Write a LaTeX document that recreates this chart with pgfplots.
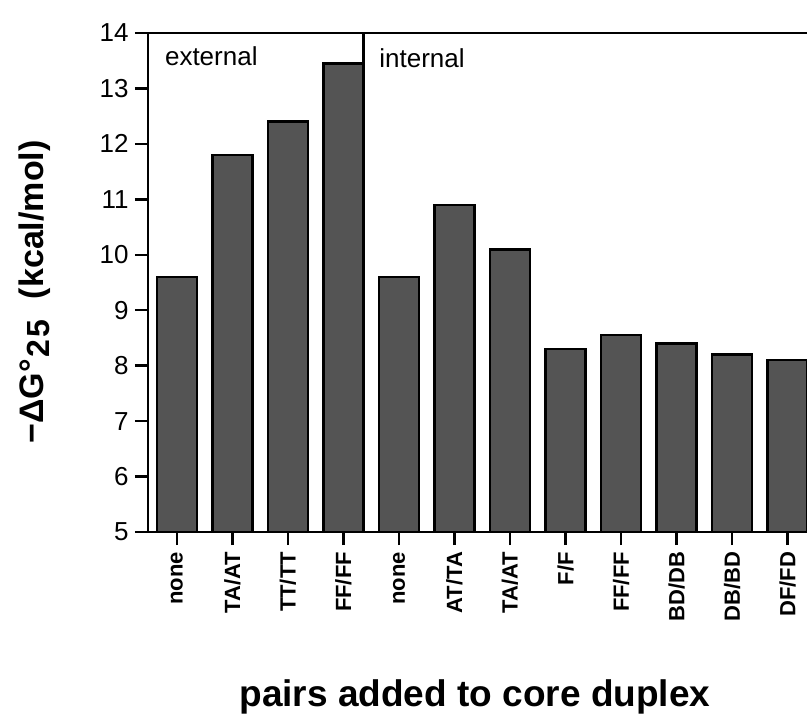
\documentclass[border=0pt]{standalone}
\usepackage{pgfplots}
\pgfplotsset{compat=1.18}
\usepackage{fontspec}
\setmainfont{Liberation Sans}
\definecolor{barfill}{RGB}{84,84,84}
\begin{document}
\begin{tikzpicture}
\begin{axis}[
  name=ax,
  scale only axis,
  width=329.5pt, height=249.5pt,
  xmin=-0.52, xmax=11.35,
  ymin=5, ymax=14,
  ytick={5,6,...,14},
  xtick={0,1,...,11},
  xticklabels={none,TA/AT,TT/TT,FF/FF,none,AT/TA,TA/AT,F/F,FF/FF,BD/DB,DB/BD,DF/FD},
  axis x line=bottom, axis y line=left,
  axis line style={-, line width=1.2pt, black},
  tick align=outside,
  major tick length=6.5pt,
  tick style={line width=1.2pt, black},
  clip mode=individual,
  /pgf/number format/assume math mode=true,
  yticklabel style={font=\fontsize{13}{15}\selectfont, inner sep=1pt, xshift=-2pt},
  xticklabel style={rotate=90, anchor=east, font=\bfseries\fontsize{11}{13}\selectfont},
  xlabel={pairs added to core duplex},
  xlabel style={at={(axis description cs:0.496,0)}, anchor=base, yshift=-87pt, font=\bfseries\fontsize{18.5}{22}\selectfont},
  ylabel={−ΔG°\hspace{0.05em}\raisebox{-0.3ex}{\fontsize{16}{16}\selectfont 2\hspace{0.08em}5}\hspace{0.6em}(kcal/mol)},
  ylabel style={at={(axis description cs:-0.1715,0.481)}, anchor=center, font=\bfseries\fontsize{17}{20}\selectfont},
]
\addplot[ybar, bar width=0.72, fill=barfill, draw=black, line width=1.3pt]
  coordinates {(0,9.6) (1,11.8) (2,12.4) (3,13.45) (4,9.6) (5,10.9) (6,10.1) (7,8.3) (8,8.55) (9,8.4) (10,8.2) (11,8.1)};
\draw[line width=1.2pt] (rel axis cs:0,1) -- (rel axis cs:1,1);
\draw[line width=1.2pt] (axis cs:3.36,14) -- (axis cs:3.36,13.45);
\node[anchor=base west, inner sep=0, font=\fontsize{13}{15}\selectfont] at (axis cs:-0.22,13.42) {external};
\node[anchor=base west, inner sep=0, font=\fontsize{13}{15}\selectfont] at (axis cs:3.64,13.37) {internal};
\end{axis}
\pgfresetboundingbox
\useasboundingbox ([shift={(-74pt,-91pt)}]ax.south west) rectangle ([shift={(0pt,16.5pt)}]ax.north east);
\end{tikzpicture}
\end{document}
